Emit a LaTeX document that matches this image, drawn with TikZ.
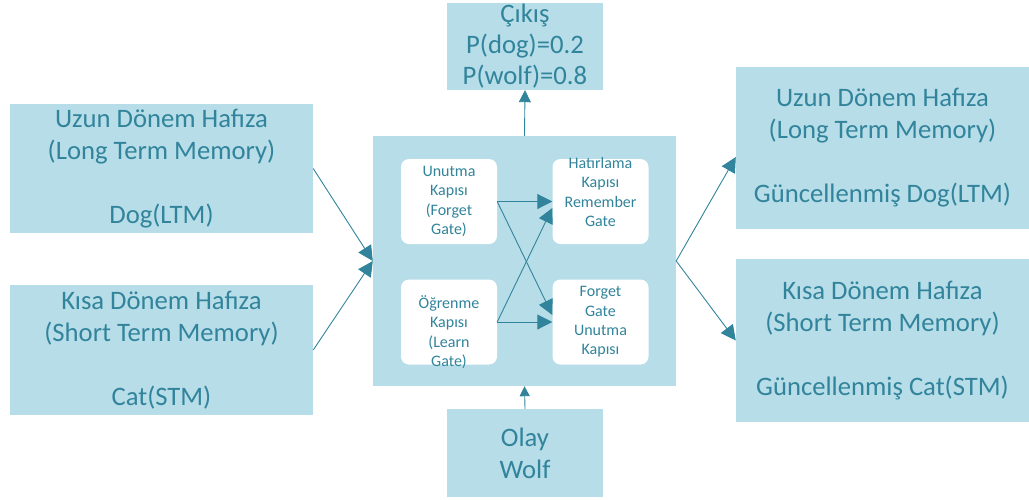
\documentclass[tikz,border=0pt]{standalone}
\usepackage{fontspec}
\setmainfont{Carlito}
\usetikzlibrary{arrows.meta,calc}
\definecolor{boxfill}{HTML}{B7DDE8}
\definecolor{tealtext}{HTML}{31849B}
\begin{document}
\begin{tikzpicture}[x=1pt,y=-1pt,
  box/.style={fill=boxfill, inner sep=0pt, text=tealtext, align=center, font=\fontsize{26.67}{32}\selectfont},
  gatebox/.style={fill=white, rounded corners=8pt, inner sep=0pt, minimum width=96pt, minimum height=85pt},
  gatetext/.style={inner sep=0pt, text=tealtext, align=center, font=\fontsize{16}{19.4}\selectfont},
  conn/.style={draw=tealtext, line width=0.9pt, -{Triangle[length=15pt,width=15pt]}},
  smallconn/.style={draw=tealtext, line width=0.9pt, -{Triangle[length=12pt,width=12pt]}}]
\useasboundingbox (0,0) rectangle (1029,499);

% left boxes
\node[box, minimum width=303pt, minimum height=129pt] (lltm) at (161.5,168.5)
  {Uzun Dönem Hafıza\\(Long Term Memory)\\[32pt]Dog(LTM)};
\node[box, minimum width=303pt, minimum height=130pt] (lstm) at (161.5,350)
  {Kısa Dönem Hafıza\\(Short Term Memory)\\[32pt]Cat(STM)};

% center box
\node[box, minimum width=303pt, minimum height=250pt] (cen) at (524.5,261) {};

% output and event
\node[box, minimum width=156pt, minimum height=87pt, font=\fontsize{26.67}{31}\selectfont] (out) at (525,46.5)
  {Çıkış\\P(dog)=0.2\\P(wolf)=0.8};
\node[box, minimum width=156pt, minimum height=88pt] (olay) at (525,453)
  {Olay\\Wolf};

% right boxes
\node[box, minimum width=293pt, minimum height=162pt] (rltm) at (882.5,148)
  {Uzun Dönem Hafıza\\(Long Term Memory)\\[32pt]Güncellenmiş Dog(LTM)};
\node[box, minimum width=293pt, minimum height=163pt] (rstm) at (882.5,340.5)
  {Kısa Dönem Hafıza\\(Short Term Memory)\\[32pt]Güncellenmiş Cat(STM)};

% gates
\node[gatebox] (uk) at (449,201.5) {};
\node[gatebox] (hk) at (600.5,201.5) {};
\node[gatebox] (ok) at (449,322) {};
\node[gatebox] (fk) at (600.5,322) {};
\node[gatetext] at (uk.center) {Unutma\\Kapısı\\(Forget\\Gate)};
\node[gatetext] at ($(hk.center)+(0,-9.5)$) {Hatırlama\\Kapısı\\Remember\\Gate};
\node[gatetext] at ($(ok.center)+(0,10)$) {Öğrenme\\Kapısı\\(Learn\\Gate)};
\node[gatetext] at (fk.center) {Forget\\Gate\\Unutma\\Kapısı};

% connectors
\draw[conn] (lltm.east) -- (cen.west);
\draw[conn] (lstm.east) -- (cen.west);
\draw[conn] (cen.east) -- ($(rltm.west)+(0,9)$);
\draw[conn] (cen.east) -- (rstm.west);
\draw[smallconn] (cen.north) -- (out.south);
\draw[draw=tealtext, line width=0.9pt, -{Triangle[length=10pt,width=10pt]}] (olay.north) -- (cen.south);

\draw[conn] (uk.east) -- (hk.west);
\draw[conn] (uk.east) -- ($(fk.west)+(0,-7)$);
\draw[conn] (ok.east) -- (fk.west);
\draw[conn] (ok.east) -- ($(hk.west)+(0,6.5)$);
\end{tikzpicture}
\end{document}
